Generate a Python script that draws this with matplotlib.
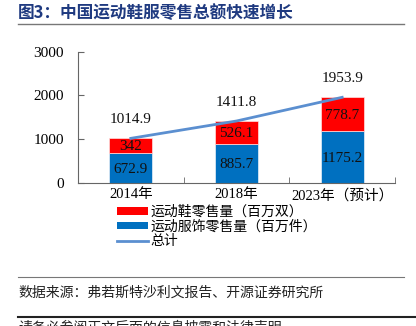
import matplotlib

matplotlib.use('Agg')

import matplotlib.pyplot as plt
from matplotlib.patches import Patch
from matplotlib.lines import Line2D
import numpy as np

plt.rcParams['font.family'] = ['Noto Sans CJK SC', 'DejaVu Sans']

years = ['2014年', '2018年', '2023年（预计）']
apparel = [672.9, 885.7, 1175.2]
shoes = [342, 526.1, 778.7]
total = [1014.9, 1411.8, 1953.9]
shoe_labels = ['342', '526.1', '778.7']

title = '图3：中国运动鞋服零售总额快速增长'
source = '数据来源：弗若斯特沙利文报告、开源证券研究所'
footer = '请务必参阅正文后面的信息披露和法律声明'

W, H = 416, 326
red = '#FF0000'
blue = '#0070C0'
line_c = '#5B8FD0'
serif = ['Liberation Serif', 'DejaVu Serif']


def fx(px):
    return px / W


def fy(py):
    return 1 - py / H


fig = plt.figure(figsize=(W / 100, H / 100), dpi=100)
ax = fig.add_axes([fx(78), fy(182.7), fx(395) - fx(78), fy(51.6) - fy(182.7)])

x = np.arange(len(years))
ax.bar(x, apparel, width=0.41, color=blue, edgecolor='#E8F0F8', linewidth=0.5, zorder=2)
ax.bar(x, shoes, width=0.41, bottom=apparel, color=red, edgecolor='#FFE0E0', linewidth=0.5, zorder=2)
ax.plot(x, total, color=line_c, lw=2, zorder=3)

for i in range(len(x)):
    ax.text(x[i], apparel[i] / 2 - 30, f'{apparel[i]:.1f}', ha='center', va='center',
            fontsize=11, family=serif, color='#111111', zorder=4)
    ax.text(x[i], apparel[i] + shoes[i] / 2 - 20, shoe_labels[i], ha='center', va='center',
            fontsize=11, family=serif, color='#111111', zorder=4)
    ax.text(x[i], total[i] + 420, f'{total[i]:.1f}', ha='center', va='center',
            fontsize=11, family=serif, color='#111111', zorder=4)

ax.set_xlim(-0.5, 2.5)
ax.set_ylim(0, 3000)
ax.set_yticks([0, 1000, 2000, 3000])
ax.set_yticklabels(['0', '1000', '2000', '3000'], family=serif, fontsize=11)
ax.set_xticks(x)
ax.set_xticklabels(years, fontsize=10.5)
for lab in ax.get_xticklabels():
    lab.set_family(['Liberation Serif', 'Noto Sans CJK SC'])
ax.set_xticks([0.5, 1.5, 2.5], minor=True)
ax.tick_params(axis='x', which='major', length=0, pad=4)
ax.tick_params(axis='x', which='minor', direction='in', length=4, color='#666666')
ax.tick_params(axis='y', direction='in', length=4, color='#666666', pad=10)
for s in ['top', 'right']:
    ax.spines[s].set_visible(False)
for s in ['left', 'bottom']:
    ax.spines[s].set_color('#666666')
    ax.spines[s].set_linewidth(0.8)

handles = [Patch(facecolor=red, edgecolor='none'),
           Patch(facecolor=blue, edgecolor='none'),
           Line2D([0], [0], color=line_c, lw=2)]
labels = ['运动鞋零售量（百万双）', '运动服饰零售量（百万件）', '总计']
fig.legend(handles, labels, loc='upper left', bbox_to_anchor=(fx(110), fy(198)),
           frameon=False, fontsize=10, handlelength=2.2, handleheight=0.45,
           handletextpad=0.2, labelspacing=0.05, borderpad=0.0)

fig.text(fx(18), fy(13), title, fontsize=12, fontweight='bold', color='#1F3A80',
         ha='left', va='center')
fig.add_artist(Line2D([fx(18), fx(404)], [fy(24), fy(24)], color='#777777', lw=1))
fig.add_artist(Line2D([fx(18), fx(404)], [fy(277), fy(277)], color='#777777', lw=0.8))
fig.text(fx(18), fy(293), source, fontsize=10, color='#222222', ha='left', va='center')
fig.add_artist(Line2D([fx(18), fx(416)], [fy(317), fy(317)], color='#222222', lw=1.5))
fig.text(fx(18), fy(328), footer, fontsize=10, color='#222222', ha='left', va='center')

fig.savefig('out.png', dpi=100)
